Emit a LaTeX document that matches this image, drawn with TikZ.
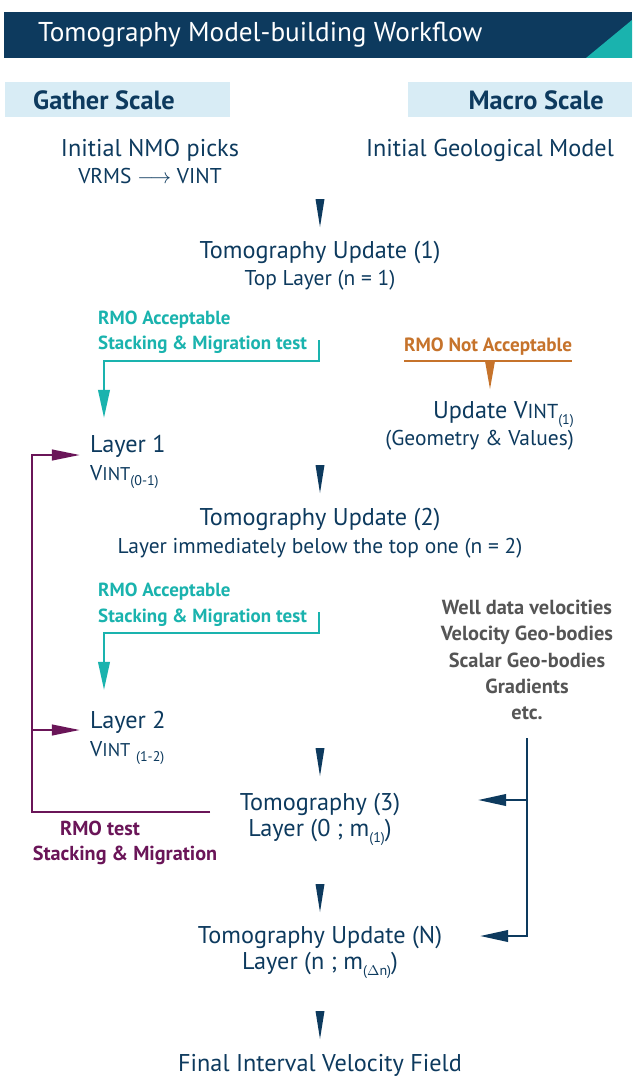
\documentclass[tikz,border=0pt]{standalone}
\usepackage{fontspec}
\setmainfont{PT Sans}
\usetikzlibrary{arrows.meta}
\definecolor{navy}{HTML}{0D3A5E}
\definecolor{tealc}{HTML}{1AB3AE}
\definecolor{paleblue}{HTML}{D8ECF5}
\definecolor{orangec}{HTML}{C6732B}
\definecolor{plum}{HTML}{6A1558}
\definecolor{greyc}{HTML}{555555}
\newcommand{\vint}[1]{V{\fontsize{#1}{#1}\selectfont INT}}
\newcommand{\lowsub}[1]{\raisebox{-0.5ex}{\fontsize{8}{9}\selectfont #1}}

\begin{document}
\begin{tikzpicture}[x=0.02cm,y=-0.02cm,
    title/.style={text=white,font=\fontsize{15.5}{17}\selectfont},
    scalehead/.style={text=navy,font=\bfseries\fontsize{15}{17}\selectfont},
    mainline/.style={text=navy,font=\fontsize{13.8}{16}\selectfont},
    subline/.style={text=navy,font=\fontsize{12.2}{14}\selectfont},
    okline/.style={text=tealc,font=\bfseries\fontsize{10.8}{13}\selectfont},
    badline/.style={text=orangec,font=\bfseries\fontsize{10.9}{13}\selectfont},
    testline/.style={text=plum,font=\bfseries\fontsize{11.5}{13}\selectfont},
    extraline/.style={text=greyc,font=\bfseries\fontsize{11.6}{14.9}\selectfont},
    tealln/.style={draw=tealc,line width=1.4pt,-{Triangle[length=16pt,width=6.5pt]}},
    orangeln/.style={draw=orangec,line width=1.7pt},
    plumln/.style={draw=plum,line width=1.4pt,-{Triangle[length=16pt,width=6pt]}},
    navyln/.style={draw=navy,line width=1.4pt,-{Triangle[length=16pt,width=6.5pt]}}]
  \useasboundingbox[fill=white] (0,0) rectangle (632,1078);

  % banner and scale headers
  \fill[navy] (4,12) rectangle (632,58);
  \fill[tealc] (586,58) -- (632,20) -- (632,58) -- cycle;
  \node[title,anchor=west] (title) at (32,35) {Tomography Model-building Workflow};
  \fill[paleblue] (5,82) rectangle (230,117);
  \fill[paleblue] (408,82) rectangle (632,117);
  \node[scalehead,anchor=west] (gather) at (27,100) {Gather Scale};
  \node[scalehead,anchor=east] (macro) at (610,100) {Macro Scale};

  % starting models
  \node[mainline] (nmo) at (150,150) {Initial NMO picks};
  \node[subline] (vrms) at (150,176) {VRMS \ensuremath{\longrightarrow} VINT};
  \node[mainline] (geol) at (490,150) {Initial Geological Model};

  % main column
  \node[mainline] (tomo1) at (320,253) {Tomography Update (1)};
  \node[subline] (top1) at (320,280) {Top Layer (n = 1)};
  \node[mainline,anchor=west] (layer1) at (84,446) {Layer 1};
  \node[subline,anchor=west] (v1) at (84,477) {\vint{10.5}\lowsub{(0-1)}};
  \node[mainline] (tomo2) at (320,520) {Tomography Update (2)};
  \node[subline] (below2) at (320,548) {Layer immediately below the top one (n = 2)};
  \node[mainline,anchor=west] (layer2) at (84,722) {Layer 2};
  \node[subline,anchor=west] (v2) at (84,753) {\vint{10.5}\ \lowsub{(1-2)}};
  \node[mainline] (tomo3) at (320,805) {Tomography (3)};
  \node[mainline] (lay3) at (320,832) {Layer (0 ; m\lowsub{(1)})};
  \node[mainline] (tomoN) at (320,938) {Tomography Update (N)};
  \node[mainline] (layN) at (320,965) {Layer (n ; m\lowsub{($\Delta$n)})};
  \node[mainline] (final) at (320,1065) {Final Interval Velocity Field};

  % acceptance tests
  \node[okline,anchor=west] (ok1a) at (92,320) {RMO Acceptable};
  \node[okline,anchor=west] (ok1b) at (92,345) {Stacking \& Migration test};
  \node[okline,anchor=west] (ok2a) at (92,592) {RMO Acceptable};
  \node[okline,anchor=west] (ok2b) at (92,618) {Stacking \& Migration test};
  \node[badline] (bad) at (488,347) {RMO Not Acceptable};
  \node[mainline,anchor=east] (upd) at (580,415) {Update \vint{11.5}\lowsub{(1)}};
  \node[subline,anchor=east] (geomval) at (580,440) {(Geometry \& Values)};
  \node[testline] (rmot) at (100,828) {RMO test};
  \node[testline] (stmig) at (125,855) {Stacking \& Migration};

  % extra constraints
  \node[extraline,align=center] (extra) at (527,660)
    {Well data velocities\\Velocity Geo-bodies\\Scalar Geo-bodies\\Gradients\\etc.};

  % flow darts
  \foreach \n/\y in {1/199,2/465,3/748,4/884,5/1011} {
    \coordinate (dt\n) at (320,\y);
    \coordinate (db\n) at (320,\y+28);
    \fill[navy] (dt\n) ++(-4.5,0) -- ++(9,0) -- (db\n) -- cycle;
  }

  % teal loops
  \coordinate (ok1end) at (319,340);
  \coordinate (l1top) at (104,418);
  \draw[tealln] (ok1end) -- (319,361) -| (l1top);
  \coordinate (ok2end) at (319,612);
  \coordinate (l2top) at (104,690);
  \draw[tealln] (ok2end) -- (319,633) -| (l2top);

  % not acceptable
  \draw[orangeln] (404,361) -- (572,361);
  \coordinate (badtip) at (490,389);
  \fill[orangec] (485,361) -- (495,361) -- (badtip) -- cycle;

  % plum feedback
  \coordinate (rmostart) at (210,812);
  \coordinate (l1in) at (80,455);
  \coordinate (pj) at (32,730);
  \coordinate (l2in) at (80,730);
  \draw[plumln] (rmostart) -- (32,812) |- (l1in);
  \draw[plumln] (pj) -- (l2in);

  % constraints feed
  \coordinate (geotop) at (527,738);
  \coordinate (gj) at (527,800);
  \coordinate (t3in) at (478,800);
  \coordinate (tNin) at (480,936);
  \draw[navyln] (geotop) |- (tNin);
  \draw[navyln] (gj) -- (t3in);
\end{tikzpicture}
\end{document}
